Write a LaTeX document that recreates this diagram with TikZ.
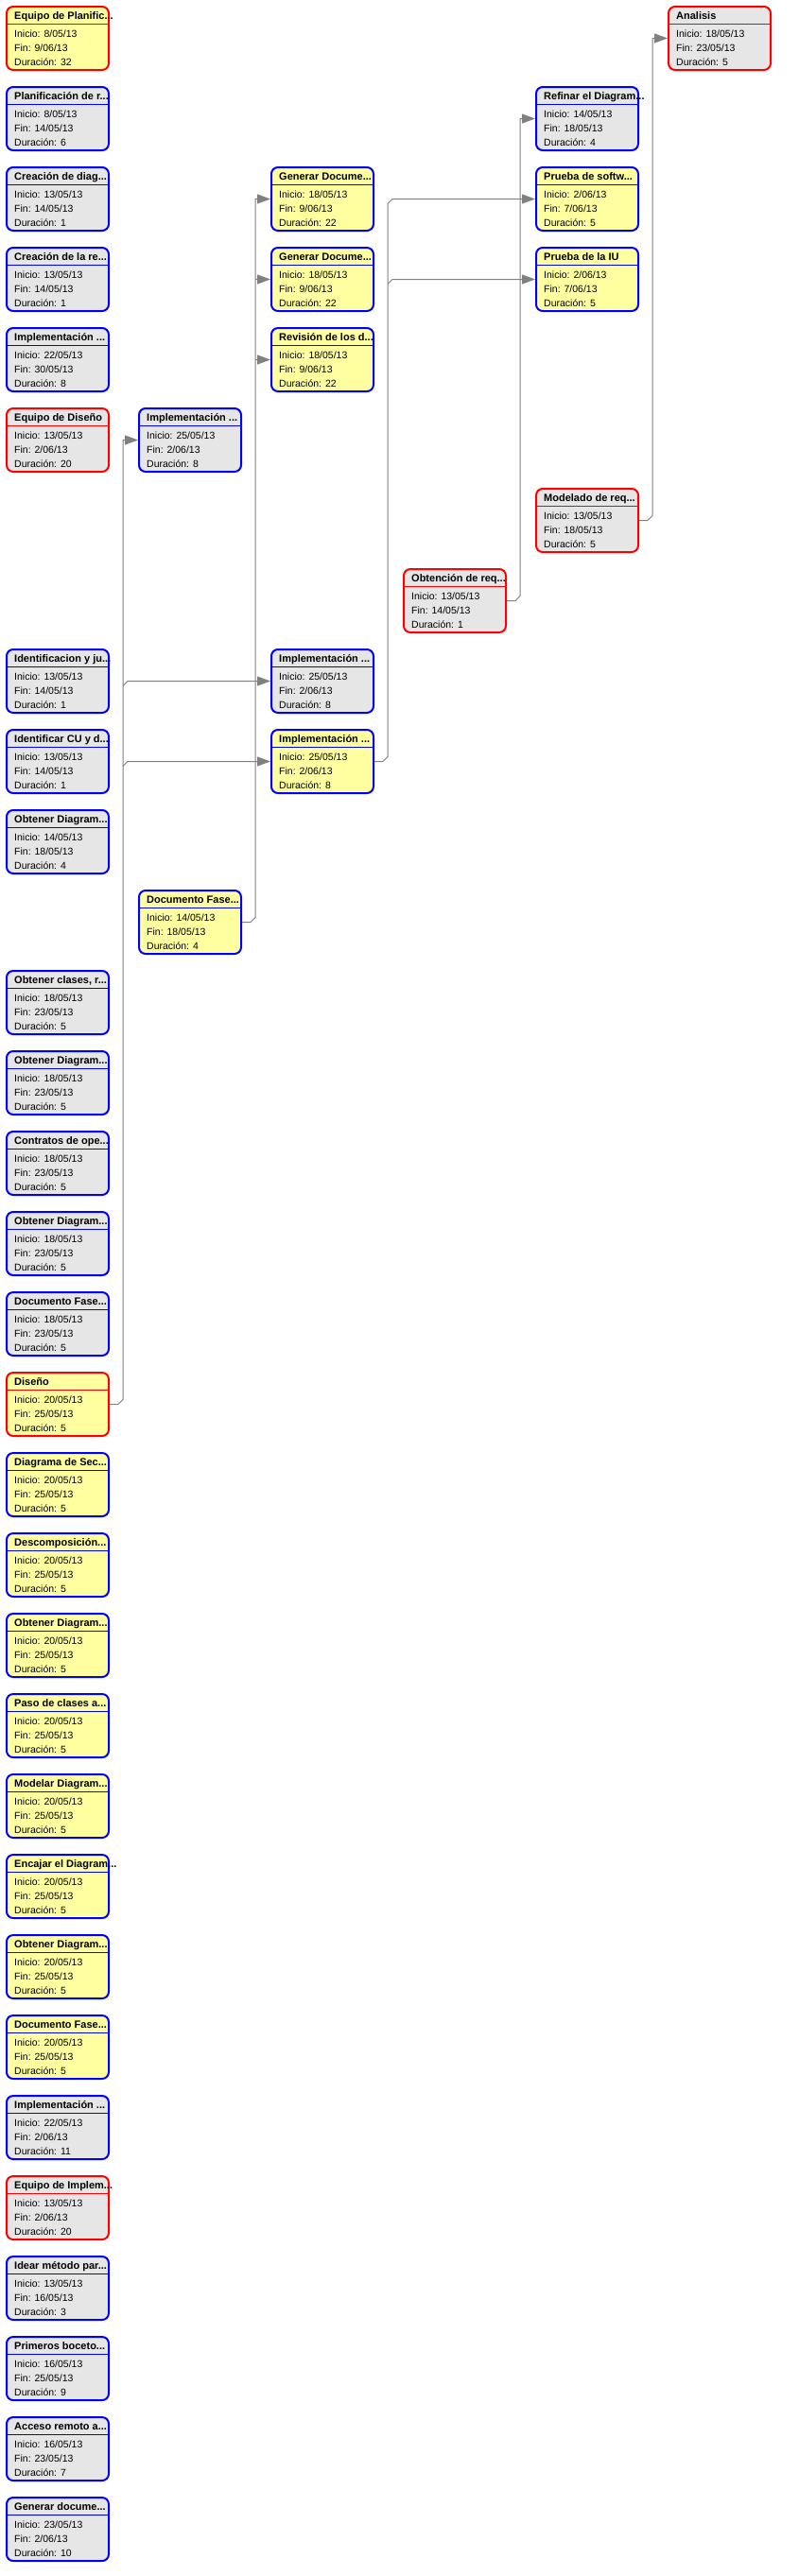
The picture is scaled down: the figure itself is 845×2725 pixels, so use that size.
\documentclass[tikz,border=0pt]{standalone}
\usepackage{fontspec}
\setmainfont{Liberation Sans}
\usetikzlibrary{arrows.meta,calc}
\definecolor{taskyellow}{RGB}{255,255,160}
\definecolor{taskgray}{RGB}{230,230,230}
\definecolor{taskblue}{RGB}{0,0,255}
\definecolor{taskred}{RGB}{255,0,0}
\definecolor{linegray}{RGB}{128,128,128}
\tikzset{
  taskbox/.style={rectangle, rounded corners=7pt, line width=2pt, minimum width=108pt, minimum height=67pt, inner sep=0pt},
  ttl/.style={anchor=base west, inner sep=0pt, font=\fontsize{11}{13}\selectfont\bfseries},
  body/.style={anchor=base west, inner sep=0pt, font=\fontsize{10.5}{12}\selectfont},
  conn/.style={draw=linegray, line width=1pt, -{Triangle[length=14pt,width=10pt]}}
}
\newcommand\gtask[9]{%
  \node[taskbox, fill=#4, draw=#5] (#1) at ({61+140*#2},{40.5+85*#3}) {};
  \draw[#5, line width=1pt] ([yshift=-19pt]#1.north west) -- ([yshift=-19pt]#1.north east);
  \node[ttl] (#1t) at ([xshift=9pt,yshift=-14pt]#1.north west) {#6};
  \node[body] (#1a) at ([xshift=9pt,yshift=-33pt]#1.north west) {Inicio: #7};
  \node[body] (#1b) at ([xshift=9pt,yshift=-48pt]#1.north west) {Fin: #8};
  \node[body] (#1c) at ([xshift=9pt,yshift=-63pt]#1.north west) {Duración: #9};
}
\begin{document}
\begin{tikzpicture}[x=1pt,y=-1pt]
\fill[white] (0,0) rectangle (845,2725);
\useasboundingbox (0,0) rectangle (845,2725);
% column 0
\gtask{c0r0}{0}{0}{taskyellow}{taskred}{Equipo de Planific...}{8/05/13}{9/06/13}{32}
\gtask{c0r1}{0}{1}{taskgray}{taskblue}{Planificación de r...}{8/05/13}{14/05/13}{6}
\gtask{c0r2}{0}{2}{taskgray}{taskblue}{Creación de diag...}{13/05/13}{14/05/13}{1}
\gtask{c0r3}{0}{3}{taskgray}{taskblue}{Creación de la re...}{13/05/13}{14/05/13}{1}
\gtask{c0r4}{0}{4}{taskgray}{taskblue}{Implementación ...}{22/05/13}{30/05/13}{8}
\gtask{c0r5}{0}{5}{taskgray}{taskred}{Equipo de Diseño}{13/05/13}{2/06/13}{20}
\gtask{c0r8}{0}{8}{taskgray}{taskblue}{Identificacion y ju...}{13/05/13}{14/05/13}{1}
\gtask{c0r9}{0}{9}{taskgray}{taskblue}{Identificar CU y d...}{13/05/13}{14/05/13}{1}
\gtask{c0r10}{0}{10}{taskgray}{taskblue}{Obtener Diagram...}{14/05/13}{18/05/13}{4}
\gtask{c0r12}{0}{12}{taskgray}{taskblue}{Obtener clases, r...}{18/05/13}{23/05/13}{5}
\gtask{c0r13}{0}{13}{taskgray}{taskblue}{Obtener Diagram...}{18/05/13}{23/05/13}{5}
\gtask{c0r14}{0}{14}{taskgray}{taskblue}{Contratos de ope...}{18/05/13}{23/05/13}{5}
\gtask{c0r15}{0}{15}{taskgray}{taskblue}{Obtener Diagram...}{18/05/13}{23/05/13}{5}
\gtask{c0r16}{0}{16}{taskgray}{taskblue}{Documento Fase...}{18/05/13}{23/05/13}{5}
\gtask{c0r17}{0}{17}{taskyellow}{taskred}{Diseño}{20/05/13}{25/05/13}{5}
\gtask{c0r18}{0}{18}{taskyellow}{taskblue}{Diagrama de Sec...}{20/05/13}{25/05/13}{5}
\gtask{c0r19}{0}{19}{taskyellow}{taskblue}{Descomposición...}{20/05/13}{25/05/13}{5}
\gtask{c0r20}{0}{20}{taskyellow}{taskblue}{Obtener Diagram...}{20/05/13}{25/05/13}{5}
\gtask{c0r21}{0}{21}{taskyellow}{taskblue}{Paso de clases a...}{20/05/13}{25/05/13}{5}
\gtask{c0r22}{0}{22}{taskyellow}{taskblue}{Modelar Diagram...}{20/05/13}{25/05/13}{5}
\gtask{c0r23}{0}{23}{taskyellow}{taskblue}{Encajar el Diagram...}{20/05/13}{25/05/13}{5}
\gtask{c0r24}{0}{24}{taskyellow}{taskblue}{Obtener Diagram...}{20/05/13}{25/05/13}{5}
\gtask{c0r25}{0}{25}{taskyellow}{taskblue}{Documento Fase...}{20/05/13}{25/05/13}{5}
\gtask{c0r26}{0}{26}{taskgray}{taskblue}{Implementación ...}{22/05/13}{2/06/13}{11}
\gtask{c0r27}{0}{27}{taskgray}{taskred}{Equipo de Implem...}{13/05/13}{2/06/13}{20}
\gtask{c0r28}{0}{28}{taskgray}{taskblue}{Idear método par...}{13/05/13}{16/05/13}{3}
\gtask{c0r29}{0}{29}{taskgray}{taskblue}{Primeros boceto...}{16/05/13}{25/05/13}{9}
\gtask{c0r30}{0}{30}{taskgray}{taskblue}{Acceso remoto a...}{16/05/13}{23/05/13}{7}
\gtask{c0r31}{0}{31}{taskgray}{taskblue}{Generar docume...}{23/05/13}{2/06/13}{10}
% column 1
\gtask{c1r5}{1}{5}{taskgray}{taskblue}{Implementación ...}{25/05/13}{2/06/13}{8}
\gtask{c1r11}{1}{11}{taskyellow}{taskblue}{Documento Fase...}{14/05/13}{18/05/13}{4}
% column 2
\gtask{c2r2}{2}{2}{taskyellow}{taskblue}{Generar Docume...}{18/05/13}{9/06/13}{22}
\gtask{c2r3}{2}{3}{taskyellow}{taskblue}{Generar Docume...}{18/05/13}{9/06/13}{22}
\gtask{c2r4}{2}{4}{taskyellow}{taskblue}{Revisión de los d...}{18/05/13}{9/06/13}{22}
\gtask{c2r8}{2}{8}{taskgray}{taskblue}{Implementación ...}{25/05/13}{2/06/13}{8}
\gtask{c2r9}{2}{9}{taskyellow}{taskblue}{Implementación ...}{25/05/13}{2/06/13}{8}
% column 3
\gtask{c3r7}{3}{7}{taskgray}{taskred}{Obtención de req...}{13/05/13}{14/05/13}{1}
% column 4
\gtask{c4r1}{4}{1}{taskgray}{taskblue}{Refinar el Diagram...}{14/05/13}{18/05/13}{4}
\gtask{c4r2}{4}{2}{taskyellow}{taskblue}{Prueba de softw...}{2/06/13}{7/06/13}{5}
\gtask{c4r3}{4}{3}{taskyellow}{taskblue}{Prueba de la IU}{2/06/13}{7/06/13}{5}
\gtask{c4r6}{4}{6}{taskgray}{taskred}{Modelado de req...}{13/05/13}{18/05/13}{5}
% column 5
\gtask{c5r0}{5}{0}{taskgray}{taskred}{Analisis}{18/05/13}{23/05/13}{5}
% connectors
\draw[conn] (c0r17.east) -- ++(9,0) -- ++(5,-5) |- (c1r5.west);
\draw[conn] ([xshift=14pt,yshift=-5pt]c0r17.east |- c2r8.west) -- ++(5,-5) -- (c2r8.west);
\draw[conn] ([xshift=14pt,yshift=-5pt]c0r17.east |- c2r9.west) -- ++(5,-5) -- (c2r9.west);
\draw[conn] (c1r11.east) -- ++(9,0) -- ++(5,-5) |- (c2r2.west);
\draw[conn] ([xshift=14pt]c1r11.east |- c2r3.west) -- (c2r3.west);
\draw[conn] ([xshift=14pt]c1r11.east |- c2r4.west) -- (c2r4.west);
\draw[conn] (c2r9.east) -- ++(9,0) -- ++(5,-5) -- ([xshift=14pt,yshift=-5pt]c2r9.east |- c4r2.west) -- ++(5,-5) -- (c4r2.west);
\draw[conn] ([xshift=14pt,yshift=-5pt]c2r9.east |- c4r3.west) -- ++(5,-5) -- (c4r3.west);
\draw[conn] (c3r7.east) -- ++(9,0) -- ++(5,-5) |- (c4r1.west);
\draw[conn] (c4r6.east) -- ++(9,0) -- ++(5,-5) |- (c5r0.west);
\end{tikzpicture}
\end{document}
